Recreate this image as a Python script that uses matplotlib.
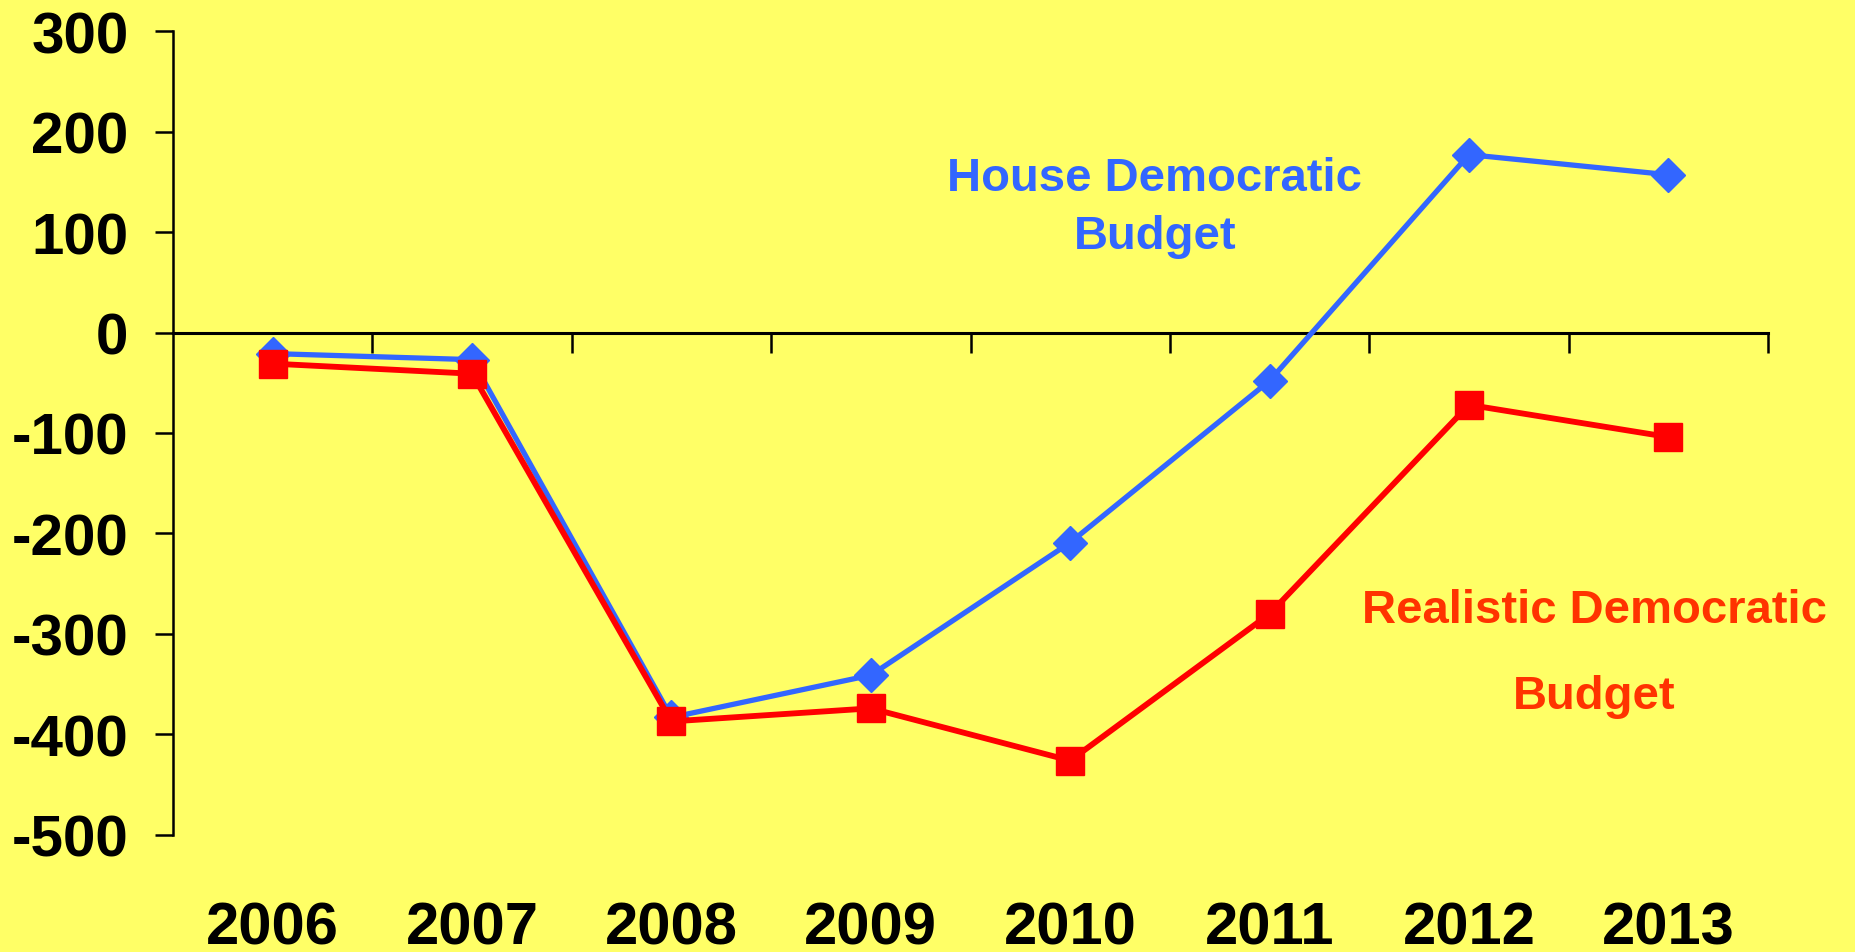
import numpy as np
import matplotlib
matplotlib.use("Agg")
import matplotlib.pyplot as plt

plt.rcParams['font.family'] = ['Liberation Sans', 'DejaVu Sans']
plt.rcParams['font.weight'] = 'bold'

# data
years = ['2006', '2007', '2008', '2009', '2010', '2011', '2012', '2013']
house_dem = [-21, -27, -383, -341, -209, -48, 177, 157]
realistic_dem = [-31, -41, -387, -374, -426, -280, -72, -104]
y_ticks = [300, 200, 100, 0, -100, -200, -300, -400, -500]

bg = '#FFFF66'
blue = '#3366FF'
red = '#FF0000'
red_txt = '#FF3300'

fig = plt.figure(figsize=(18.56, 9.53), dpi=100, facecolor=bg)
ax = fig.add_axes([0.0932, 0.1228, 0.8594, 0.8436], facecolor=bg)

x = np.arange(len(years))
ax.plot(x, house_dem, color=blue, lw=3.8, marker='D', ms=17.5,
        mec=blue, mfc=blue, zorder=3, clip_on=False)
ax.plot(x, realistic_dem, color=red, lw=4.2, marker='s', ms=20,
        mec=red, mfc=red, zorder=4, clip_on=False)

ax.set_xlim(-0.5, len(years) - 0.5)
ax.set_ylim(-500, 300)

# y axis
ax.set_yticks(y_ticks)
ax.set_yticklabels([str(v) for v in y_ticks], fontsize=42)
ax.tick_params(axis='y', direction='out', length=13, width=1.8, pad=19,
               colors='black')
for s in ['top', 'right', 'bottom']:
    ax.spines[s].set_visible(False)
ax.spines['left'].set_linewidth(1.8)

# year labels at the bottom, no ticks
ax.set_xticks(x)
ax.set_xticklabels(years, fontsize=43)
ax.tick_params(axis='x', length=0, pad=47)

# zero line with category-boundary ticks hanging below it
zero_loc = (0 - (-500)) / 800
sec = ax.secondary_xaxis(zero_loc)
sec.set_alignment('bottom')
sec.set_xticks(np.arange(0.5, len(years), 1.0))
sec.set_xticklabels([''] * len(years))
sec.tick_params(axis='x', direction='out', length=14.5, width=1.8)
sec.spines['bottom'].set_linewidth(2.2)

# series labels
ax.text(4.425, 142, 'House Democratic', color=blue, fontsize=34,
        ha='center', va='baseline')
ax.text(4.425, 84, 'Budget', color=blue, fontsize=34,
        ha='center', va='baseline')
ax.text(6.63, -288, 'Realistic Democratic', color=red_txt, fontsize=34,
        ha='center', va='baseline')
ax.text(6.63, -374, 'Budget', color=red_txt, fontsize=34,
        ha='center', va='baseline')

fig.savefig('out.png', dpi=100, facecolor=bg)
